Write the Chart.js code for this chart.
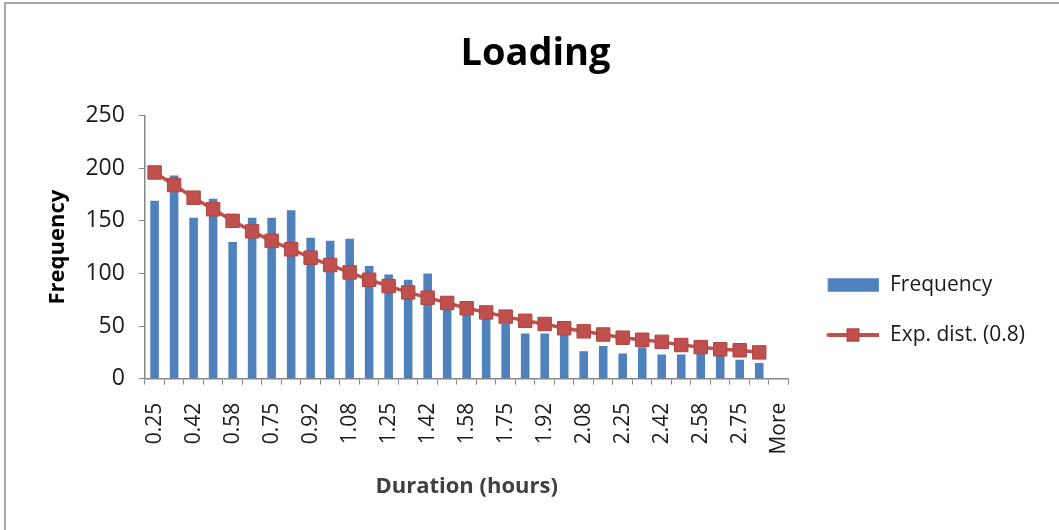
<!DOCTYPE html>
<html>
<head>
<meta charset="utf-8">
<script src="https://cdn.jsdelivr.net/npm/chart.js@4/dist/chart.umd.min.js"></script>
<style>
    body { margin: 0; background: #fff; }
    #wrap { position: relative; width: 1059px; height: 530px; }
    #frame { position: absolute; left: 4px; top: 2px; right: 0; bottom: 0;
             border-top: 2px solid #a6a6a6; border-left: 2px solid #a6a6a6; pointer-events: none; }
</style>
</head>
<body>
<div id="wrap">
    <canvas id="myChart" width="1059" height="530"></canvas>
    <div id="frame"></div>
</div>
<script>
"use strict"

// categories (bin upper limits, hours)
let durationLabels = ['0.25', '0.33', '0.42', '0.5', '0.58', '0.67', '0.75', '0.83', '0.92', '1',
    '1.08', '1.17', '1.25', '1.33', '1.42', '1.5', '1.58', '1.67', '1.75', '1.83', '1.92', '2',
    '2.08', '2.17', '2.25', '2.33', '2.42', '2.5', '2.58', '2.67', '2.75', '2.83', 'More']

// observed counts per bin
let frequencyValues = [169, 193, 153, 171, 130, 153, 153, 160, 134, 131,
    133, 107, 99, 94, 100, 67, 62, 57, 52, 43, 43, 42,
    26, 31, 24, 30, 23, 23, 25, 22, 18, 15, 0]

// fitted exponential distribution (rate 0.8)
let expDistValues = [196, 184, 172, 161, 150, 140, 131, 123, 115, 108,
    101, 94, 88, 82, 77, 72, 67, 63, 59, 55, 52, 48,
    45, 42, 39, 37, 35, 32, 30, 28, 27, 25, null]

let yTicks = [0, 50, 100, 150, 200, 250]

const BLUE = '#4F81BD'
const RED = '#C0504D'
const AXIS = '#868686'
const FONT = "'Open Sans', sans-serif"

// little legend icons (bar swatch / line with square marker)
function makeIcon(isLine) {
    let c = document.createElement('canvas')
    c.width = 62
    c.height = 16
    let g = c.getContext('2d')
    if (isLine) {
        g.strokeStyle = RED
        g.lineWidth = 4
        g.lineCap = 'round'
        g.beginPath()
        g.moveTo(11, 8)
        g.lineTo(61, 8)
        g.stroke()
        g.fillStyle = RED
        g.fillRect(29, 1.5, 13, 13)
        g.strokeStyle = '#B0443F'
        g.lineWidth = 1
        g.strokeRect(29.5, 2, 12, 12)
    } else {
        g.fillStyle = BLUE
        g.fillRect(10, 1, 52, 14)
        g.strokeStyle = '#7aa0d0'
        g.lineWidth = 1
        g.strokeRect(10.5, 1.5, 51, 13)
    }
    return c
}
let legendIcons = [makeIcon(false), makeIcon(true)]

let ctx = document.getElementById('myChart').getContext('2d')
let myChart = new Chart(ctx, {
    type: 'bar',
    data: {
        labels: durationLabels,
        datasets: [{
            label: 'Frequency',
            data: frequencyValues,
            backgroundColor: BLUE,
            barPercentage: 0.44,
            categoryPercentage: 1,
            order: 2
        }, {
            type: 'line',
            label: 'Exp. dist. (0.8)',
            data: expDistValues,
            borderColor: RED,
            borderWidth: 3.5,
            pointStyle: 'rect',
            pointRadius: 9.5,
            pointBackgroundColor: RED,
            pointBorderColor: '#B0443F',
            pointBorderWidth: 1,
            tension: 0,
            order: 1
        }]
    },
    options: {
        responsive: false,
        animation: false,
        layout: {
            padding: { top: 5, left: 36, right: 24, bottom: 26 }
        },
        plugins: {
            tooltip: { enabled: false },
            title: {
                display: true,
                text: 'Loading',
                color: '#000',
                font: { family: FONT, size: 38, weight: 'bold' },
                padding: { top: 26, bottom: 39 }
            },
            legend: {
                position: 'right',
                align: 'center',
                title: {
                    display: true,
                    text: '',
                    font: { size: 10 },
                    padding: { top: 99, bottom: 0 }
                },
                labels: {
                    usePointStyle: true,
                    pointStyleWidth: 62,
                    padding: 29,
                    color: '#1a1a1a',
                    font: { family: FONT, size: 21 },
                    generateLabels: function(chart) {
                        return chart.data.datasets.map(function(ds, i) {
                            return {
                                text: ds.label,
                                pointStyle: legendIcons[i],
                                datasetIndex: i,
                                hidden: false,
                                lineWidth: 0,
                                fontColor: '#1a1a1a'
                            }
                        })
                    }
                }
            }
        },
        scales: {
            x: {
                grid: {
                    offset: true,
                    drawOnChartArea: false,
                    tickLength: 6,
                    color: AXIS
                },
                border: { color: AXIS, width: 1.5 },
                ticks: {
                    autoSkip: false,
                    minRotation: 90,
                    maxRotation: 90,
                    padding: 18,
                    color: '#1a1a1a',
                    font: { family: FONT, size: 21 },
                    callback: function(value, index) {
                        return index % 2 == 0 ? durationLabels[index] : ''
                    }
                },
                title: {
                    display: true,
                    text: 'Duration (hours)',
                    color: '#404040',
                    font: { family: FONT, size: 22, weight: 'bold' },
                    padding: { top: 1, bottom: 4 }
                }
            },
            y: {
                min: yTicks[0],
                max: yTicks[yTicks.length - 1],
                grid: {
                    drawOnChartArea: false,
                    tickLength: 6,
                    color: AXIS
                },
                border: { color: AXIS, width: 1.5 },
                ticks: {
                    stepSize: yTicks[1] - yTicks[0],
                    padding: 14,
                    color: '#1a1a1a',
                    font: { family: FONT, size: 23 }
                },
                title: {
                    display: true,
                    text: 'Frequency',
                    color: '#000',
                    font: { family: FONT, size: 22, weight: 'bold' },
                    padding: { top: 9, bottom: 0 }
                }
            }
        }
    }
})
</script>
</body>
</html>
